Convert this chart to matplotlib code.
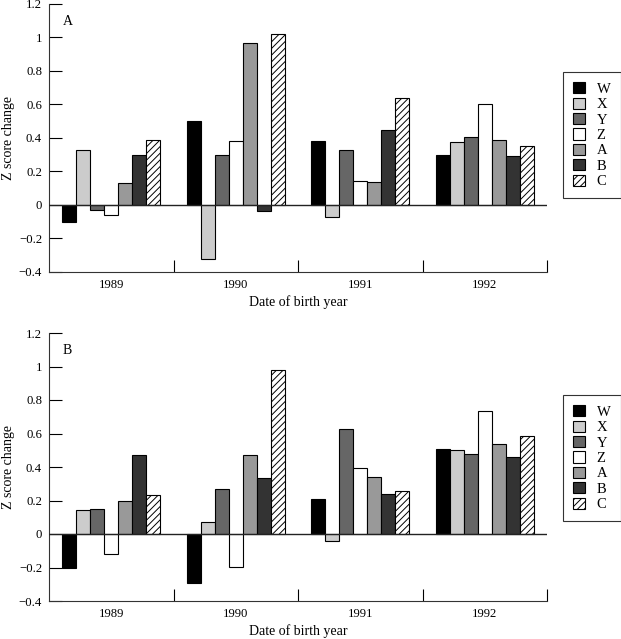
import numpy as np
from matplotlib import pyplot as plt

years = ["1989", "1990", "1991", "1992"]
series = ["W", "X", "Y", "Z", "A", "B", "C"]

# panel A, one list per year, values in series order W..C
panel_a = {
    "1989": [-0.10, 0.33, -0.03, -0.06, 0.13, 0.30, 0.39],
    "1990": [0.50, -0.32, 0.30, 0.38, 0.97, -0.035, 1.02],
    "1991": [0.38, -0.07, 0.33, 0.145, 0.135, 0.45, 0.64],
    "1992": [0.30, 0.375, 0.405, 0.60, 0.39, 0.29, 0.355],
}
panel_b = {
    "1989": [-0.20, 0.145, 0.15, -0.12, 0.20, 0.47, 0.23],
    "1990": [-0.29, 0.07, 0.27, -0.195, 0.47, 0.335, 0.98],
    "1991": [0.21, -0.04, 0.625, 0.395, 0.34, 0.24, 0.255],
    "1992": [0.51, 0.50, 0.48, 0.735, 0.54, 0.46, 0.585],
}

colors = ["#000000", "#cccccc", "#666666", "#ffffff", "#999999", "#333333", "#ffffff"]
hatches = [None, None, None, None, None, None, "/////"]

plt.rcParams["font.family"] = ["Liberation Serif", "DejaVu Serif"]
plt.rcParams["hatch.linewidth"] = 0.7

fig = plt.figure(figsize=(6.21, 6.39), dpi=100)

W, H = 621, 639
def axes_at(left, top, right, bottom):
    return fig.add_axes([left / W, 1 - bottom / H, (right - left) / W, (bottom - top) / H])

panels = [
    ("A", panel_a, axes_at(49, 4, 547, 272), 72),
    ("B", panel_b, axes_at(49, 333, 547, 601), 395),
]

bw = 0.113
x = np.arange(len(years)) + 1

for letter, data, ax, leg_top in panels:
    vals = np.array([data[y] for y in years])  # shape years x series
    handles = []
    for k, name in enumerate(series):
        offs = (k - (len(series) - 1) / 2) * bw
        b = ax.bar(x + offs, vals[:, k], width=bw, color=colors[k], edgecolor="black",
                   linewidth=0.8, hatch=hatches[k], label=name, zorder=2)
        handles.append(b)
    ax.axhline(0, color="#222222", linewidth=1.0, zorder=3)
    ax.set_xlim(0.5, 4.5)
    ax.set_ylim(-0.4, 1.2)
    ax.set_yticks([-0.4, -0.2, 0, 0.2, 0.4, 0.6, 0.8, 1, 1.2])
    ax.set_yticklabels(["\u22120.4", "\u22120.2", "0", "0.2", "0.4", "0.6", "0.8", "1", "1.2"])
    ax.set_xticks([1.5, 2.5, 3.5, 4.5])
    ax.set_xticklabels([])
    ax.set_xticks(x, minor=True)
    ax.set_xticklabels(years, minor=True)
    ax.tick_params(axis="x", which="major", direction="in", length=9, width=0.8)
    ax.tick_params(axis="x", which="minor", length=0, labelsize=9.2, pad=5)
    ax.tick_params(axis="y", direction="in", length=9, width=0.8, labelsize=9.2, pad=5)
    for s in ["top", "right"]:
        ax.spines[s].set_visible(False)
    for s in ["left", "bottom"]:
        ax.spines[s].set_linewidth(0.8)
        ax.spines[s].set_color("#333333")
    ax.set_ylabel("Z score change", fontsize=10, labelpad=3)
    ax.set_xlabel("Date of birth year", fontsize=10, labelpad=3)
    ax.text(0.027, 0.935, letter, transform=ax.transAxes, fontsize=10, va="center", ha="left")
    leg = ax.legend(handles=handles, loc="upper left", bbox_to_anchor=(563 / W, 1 - leg_top / H),
                    bbox_transform=fig.transFigure, borderaxespad=0, fontsize=10.5,
                    handlelength=0.8, handleheight=0.8, handletextpad=0.8, labelspacing=0.12,
                    fancybox=False, edgecolor="#333333", framealpha=1, borderpad=0.7)
    leg.get_frame().set_linewidth(0.8)

fig.savefig("out.png", dpi=100)
